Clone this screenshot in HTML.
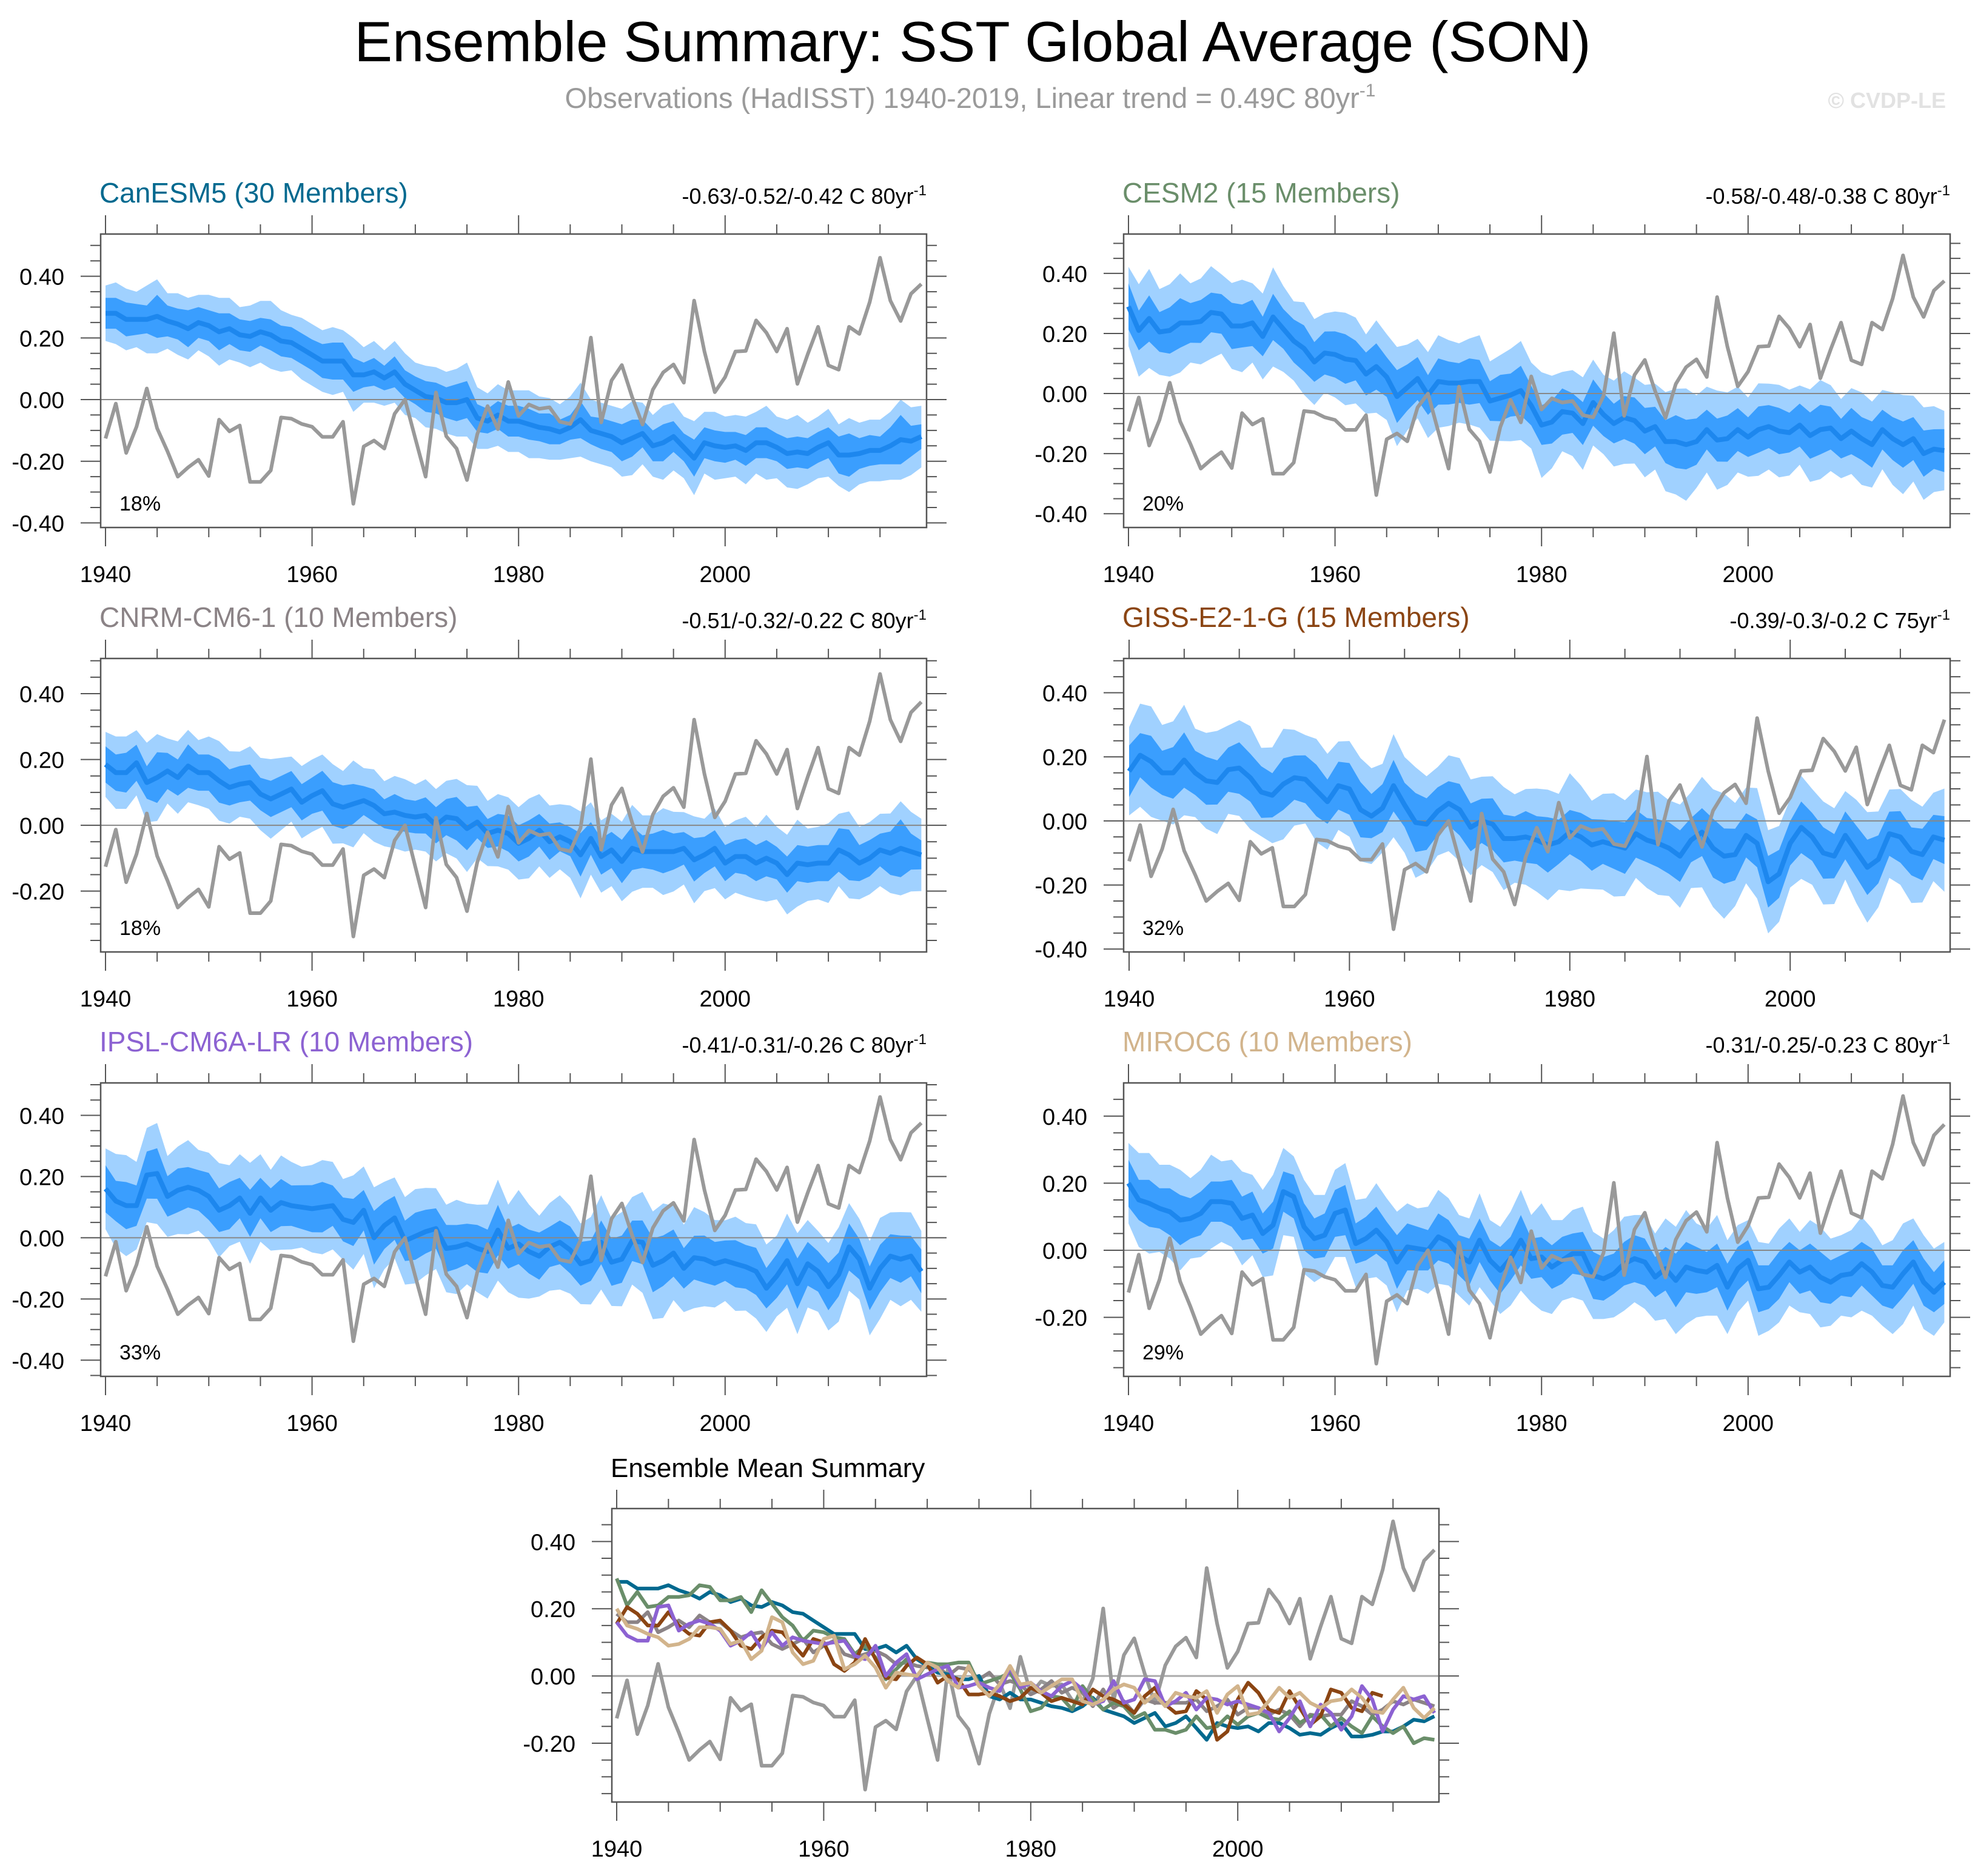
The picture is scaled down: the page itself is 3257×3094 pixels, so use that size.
<!DOCTYPE html>
<html><head><meta charset="utf-8"><style>
html,body{margin:0;padding:0;background:#fff;}
svg{display:block;font-family:"Liberation Sans",Arial,sans-serif;}
</style></head><body>
<svg id="chart" xmlns="http://www.w3.org/2000/svg" width="3257" height="3094" viewBox="0 0 3257 3094">
<rect x="0" y="0" width="3257" height="3094" fill="#fff"/>
<text x="1604" y="101" font-size="94" text-anchor="middle" fill="#000">Ensemble Summary: SST Global Average (SON)</text>
<text x="1600" y="178" font-size="47" text-anchor="middle" fill="#9a9a9a">Observations (HadISST) 1940-2019, Linear trend = 0.49C 80yr<tspan dy="-19" font-size="30">-1</tspan></text>
<text x="3209" y="178" font-size="36" font-weight="bold" text-anchor="end" fill="#e2e2e2">© CVDP-LE</text>
<g id="panels"></g>
</svg>
<script>
const obsValues=[-0.126,-0.013,-0.173,-0.088,0.036,-0.093,-0.168,-0.250,-0.220,-0.195,-0.248,-0.065,-0.103,-0.084,-0.267,-0.267,-0.230,-0.058,-0.062,-0.079,-0.088,-0.121,-0.121,-0.072,-0.338,-0.152,-0.133,-0.159,-0.046,0.0,-0.126,-0.250,0.023,-0.119,-0.159,-0.261,-0.112,-0.021,-0.096,0.057,-0.053,-0.016,-0.030,-0.025,-0.072,-0.079,-0.008,0.201,-0.074,0.062,0.112,0.008,-0.081,0.032,0.088,0.114,0.055,0.321,0.156,0.024,0.073,0.156,0.158,0.257,0.217,0.156,0.230,0.051,0.147,0.236,0.111,0.097,0.236,0.213,0.316,0.460,0.321,0.255,0.343,0.375];
const canesm5Mean=[0.28,0.28,0.26,0.26,0.26,0.27,0.255,0.245,0.23,0.25,0.24,0.22,0.23,0.21,0.205,0.22,0.21,0.19,0.185,0.165,0.145,0.125,0.125,0.125,0.08,0.08,0.09,0.07,0.09,0.05,0.03,0.01,0.005,-0.01,-0.01,0.0,-0.06,-0.07,-0.05,-0.07,-0.07,-0.08,-0.09,-0.095,-0.105,-0.09,-0.065,-0.1,-0.11,-0.12,-0.14,-0.125,-0.11,-0.15,-0.14,-0.12,-0.155,-0.19,-0.14,-0.15,-0.155,-0.15,-0.165,-0.14,-0.14,-0.155,-0.175,-0.17,-0.175,-0.155,-0.14,-0.18,-0.18,-0.175,-0.165,-0.165,-0.15,-0.13,-0.135,-0.12];
const cesm2Mean=[0.29,0.21,0.25,0.205,0.21,0.235,0.235,0.24,0.27,0.265,0.225,0.225,0.235,0.19,0.255,0.215,0.175,0.15,0.105,0.135,0.13,0.115,0.11,0.065,0.09,0.055,-0.01,0.02,0.05,-0.005,0.04,0.035,0.035,0.04,0.04,-0.025,-0.015,-0.005,0.01,-0.04,-0.105,-0.095,-0.06,-0.065,-0.1,-0.03,-0.07,-0.1,-0.08,-0.09,-0.125,-0.11,-0.16,-0.16,-0.17,-0.16,-0.12,-0.155,-0.15,-0.12,-0.145,-0.12,-0.11,-0.125,-0.13,-0.105,-0.14,-0.12,-0.115,-0.15,-0.125,-0.15,-0.17,-0.12,-0.15,-0.17,-0.15,-0.2,-0.185,-0.19];
const cnrmMean=[0.185,0.16,0.16,0.19,0.13,0.145,0.165,0.145,0.18,0.16,0.16,0.135,0.115,0.125,0.13,0.095,0.08,0.095,0.11,0.07,0.09,0.105,0.065,0.055,0.065,0.075,0.06,0.035,0.04,0.03,0.025,0.03,0.0,0.025,0.02,-0.01,0.01,-0.025,-0.015,-0.025,-0.055,-0.04,-0.015,-0.05,-0.035,-0.05,-0.09,-0.04,-0.095,-0.075,-0.11,-0.07,-0.08,-0.08,-0.08,-0.08,-0.07,-0.105,-0.09,-0.07,-0.115,-0.095,-0.095,-0.115,-0.1,-0.115,-0.15,-0.115,-0.12,-0.115,-0.115,-0.075,-0.09,-0.115,-0.1,-0.075,-0.085,-0.07,-0.08,-0.09];
const gissMean=[0.155,0.205,0.185,0.15,0.15,0.19,0.15,0.125,0.12,0.16,0.165,0.135,0.09,0.08,0.115,0.135,0.13,0.095,0.06,0.11,0.1,0.035,0.015,0.04,0.11,0.05,-0.005,-0.01,0.03,0.055,0.035,-0.02,0.0,-0.01,-0.055,-0.055,-0.05,-0.06,-0.075,-0.065,-0.035,-0.05,-0.075,-0.065,-0.075,-0.085,-0.04,-0.06,-0.07,-0.085,-0.11,-0.06,-0.035,-0.085,-0.11,-0.105,-0.045,-0.07,-0.19,-0.165,-0.07,-0.02,-0.05,-0.1,-0.11,-0.045,-0.095,-0.145,-0.12,-0.04,-0.05,-0.095,-0.105,-0.05,-0.06];
const ipslMean=[0.16,0.12,0.105,0.105,0.205,0.21,0.135,0.155,0.165,0.155,0.135,0.09,0.105,0.13,0.08,0.13,0.09,0.115,0.105,0.1,0.095,0.1,0.105,0.06,0.05,0.09,0.0,0.04,0.065,-0.01,0.005,0.02,0.03,-0.035,-0.03,-0.02,-0.035,-0.045,0.025,-0.035,-0.02,-0.045,-0.06,-0.03,-0.015,-0.04,-0.085,-0.075,-0.015,-0.08,-0.07,-0.01,-0.015,-0.09,-0.075,-0.05,-0.1,-0.065,-0.07,-0.085,-0.075,-0.085,-0.095,-0.11,-0.165,-0.125,-0.075,-0.15,-0.085,-0.11,-0.16,-0.12,-0.03,-0.07,-0.165,-0.1,-0.06,-0.07,-0.06,-0.11];
const mirocMean=[0.2,0.15,0.14,0.125,0.115,0.09,0.095,0.11,0.145,0.145,0.14,0.095,0.105,0.05,0.075,0.175,0.16,0.07,0.035,0.045,0.11,0.12,0.02,0.035,0.06,0.025,-0.035,0.01,0.005,0.0,0.04,0.025,-0.015,-0.035,0.03,-0.03,-0.06,-0.025,0.03,-0.025,-0.02,-0.05,-0.03,-0.01,-0.01,-0.075,-0.085,-0.07,-0.04,-0.025,-0.035,-0.08,-0.055,-0.09,-0.05,-0.06,-0.065,-0.045,-0.11,-0.055,-0.03,-0.115,-0.11,-0.075,-0.035,-0.065,-0.05,-0.08,-0.095,-0.075,-0.07,-0.04,-0.065,-0.105,-0.11,-0.07,-0.035,-0.095,-0.125,-0.095];
const innerNarrow=[0.05,0.05,0.055,0.05,0.045,0.07,0.05,0.05,0.06,0.05,0.05,0.06,0.05,0.05,0.05,0.045,0.05,0.05,0.05,0.05,0.05,0.055,0.06,0.06,0.055,0.04,0.045,0.04,0.05,0.045,0.045,0.05,0.05,0.05,0.06,0.06,0.045,0.04,0.045,0.05,0.05,0.05,0.045,0.05,0.04,0.04,0.06,0.045,0.05,0.05,0.06,0.06,0.045,0.05,0.06,0.05,0.045,0.06,0.05,0.05,0.05,0.045,0.05,0.05,0.05,0.045,0.05,0.05,0.05,0.05,0.05,0.06,0.07,0.05,0.05,0.045,0.06,0.08,0.05,0.04];
const outerNarrow=[0.09,0.1,0.1,0.09,0.11,0.12,0.09,0.1,0.1,0.09,0.1,0.11,0.1,0.09,0.1,0.1,0.11,0.1,0.09,0.1,0.1,0.1,0.11,0.1,0.12,0.09,0.1,0.09,0.1,0.1,0.09,0.1,0.1,0.1,0.11,0.12,0.1,0.09,0.1,0.1,0.1,0.11,0.1,0.1,0.09,0.1,0.12,0.1,0.1,0.1,0.11,0.12,0.1,0.1,0.12,0.11,0.1,0.12,0.1,0.11,0.1,0.1,0.11,0.1,0.12,0.1,0.11,0.12,0.1,0.1,0.11,0.1,0.12,0.1,0.1,0.1,0.11,0.13,0.11,0.1];
const innerWide=[0.07,0.06,0.07,0.06,0.07,0.075,0.06,0.065,0.06,0.06,0.07,0.065,0.07,0.06,0.07,0.06,0.065,0.07,0.06,0.065,0.07,0.075,0.06,0.065,0.07,0.06,0.08,0.07,0.065,0.06,0.07,0.065,0.06,0.07,0.065,0.06,0.07,0.065,0.075,0.06,0.06,0.065,0.07,0.06,0.065,0.07,0.065,0.06,0.065,0.07,0.07,0.06,0.065,0.08,0.075,0.07,0.06,0.065,0.07,0.065,0.06,0.07,0.065,0.07,0.06,0.065,0.07,0.075,0.065,0.06,0.07,0.065,0.07,0.06,0.065,0.07,0.065,0.07,0.06,0.065];
const outerWide=[0.12,0.14,0.15,0.13,0.14,0.15,0.12,0.13,0.14,0.12,0.13,0.14,0.12,0.13,0.15,0.13,0.12,0.14,0.13,0.12,0.13,0.14,0.13,0.12,0.14,0.13,0.15,0.13,0.12,0.13,0.14,0.13,0.12,0.13,0.14,0.12,0.13,0.14,0.15,0.13,0.16,0.14,0.12,0.13,0.14,0.13,0.12,0.13,0.14,0.13,0.14,0.13,0.15,0.16,0.17,0.14,0.13,0.15,0.14,0.13,0.12,0.14,0.13,0.14,0.13,0.12,0.14,0.15,0.13,0.12,0.13,0.14,0.13,0.12,0.14,0.15,0.13,0.14,0.13,0.12];
const xTickYears=[1940,1960,1980,2000];
const panelTitles=["CanESM5 (30 Members)","CESM2 (15 Members)","CNRM-CM6-1 (10 Members)","GISS-E2-1-G (15 Members)","IPSL-CM6A-LR (10 Members)","MIROC6 (10 Members)"];
const trendLabels=["-0.63/-0.52/-0.42 C 80yr","-0.58/-0.48/-0.38 C 80yr","-0.51/-0.32/-0.22 C 80yr","-0.39/-0.3/-0.2 C 75yr","-0.41/-0.31/-0.26 C 80yr","-0.31/-0.25/-0.23 C 80yr"];
const percentLabels=["18%","20%","18%","32%","33%","29%"];

const NS="http://www.w3.org/2000/svg";
const root=document.getElementById('panels');
function mk(tag,attrs,parent){const e=document.createElementNS(NS,tag);for(const k in attrs)e.setAttribute(k,attrs[k]);(parent||root).appendChild(e);return e;}

const models=[
 {mean:canesm5Mean,inner:innerNarrow,outer:outerNarrow,f:1.0,color:"#00698f",box:[166,386,1528,870],x0:174,step:17.03,ymax:0.537,ymin:-0.415,n:80},
 {mean:cesm2Mean,inner:innerWide,outer:outerWide,f:1.1,color:"#6a8e6a",box:[1853,386,3216,870],x0:1861,step:17.03,ymax:0.531,ymin:-0.446,n:80},
 {mean:cnrmMean,inner:innerNarrow,outer:outerNarrow,f:1.1,color:"#8b8386",box:[166,1086,1528,1570],x0:174,step:17.03,ymax:0.507,ymin:-0.385,n:80},
 {mean:gissMean,inner:innerWide,outer:outerWide,f:1.15,color:"#8b4513",box:[1853,1086,3216,1570],x0:1862,step:18.17,ymax:0.507,ymin:-0.409,n:75},
 {mean:ipslMean,inner:innerWide,outer:outerWide,f:1.1,color:"#8c62d2",box:[166,1786,1528,2270],x0:174,step:17.03,ymax:0.506,ymin:-0.453,n:80},
 {mean:mirocMean,inner:innerWide,outer:outerWide,f:1.0,color:"#d2b48c",box:[1853,1786,3216,2270],x0:1861,step:17.03,ymax:0.499,ymin:-0.376,n:80}
];

function axes(g,cfg){
 const [L,T,R,B]=cfg.box;
 const xs=yr=>cfg.x0+(yr-1940)*cfg.step;
 const ys=v=>T+(cfg.ymax-v)/(cfg.ymax-cfg.ymin)*(B-T);
 mk('rect',{x:L,y:T,width:R-L,height:B-T,fill:'#fff',stroke:'none'},g);
 for(let k=-10;k<=10;k++){const v=k*0.05;if(v>cfg.ymax||v<cfg.ymin)continue;const major=(k%4===0);const y=ys(v);
  const t1=mk('line',{x1:L-(major?33:17),x2:L,y1:y,y2:y,stroke:'#555','stroke-width':2},g);
  const t2=mk('line',{x1:R,x2:R+(major?33:17),y1:y,y2:y,stroke:'#555','stroke-width':2},g);
  if(major){const lb=mk('text',{x:L-60,y:y+14,'font-size':38,'text-anchor':'end',fill:'#000'},g);lb.textContent=v.toFixed(2);}
 }
 for(let yr=1940;xs(yr)<=R;yr+=5){const x=xs(yr);const major=((yr-1940)%20===0);
  const a=mk('line',{x1:x,x2:x,y1:T-(major?31:16),y2:T,stroke:'#555','stroke-width':2},g);
  const b=mk('line',{x1:x,x2:x,y1:B,y2:B+(major?31:16),stroke:'#555','stroke-width':2},g);
 }
 xTickYears.forEach(yr=>{const lb=mk('text',{x:xs(yr),y:B+90,'font-size':38,'text-anchor':'middle',fill:'#000'},g);lb.textContent=yr;});
 return {xs,ys};
}
function pathOf(arr,n,xs,ys){let d='';for(let i=0;i<n;i++){d+=(i?'L':'M')+xs(1940+i).toFixed(1)+','+ys(arr[i]).toFixed(1);}return d;}
function bandOf(mean,w,f,n,xs,ys){let up='',lo='';for(let i=0;i<n;i++){up+=(i?'L':'M')+xs(1940+i).toFixed(1)+','+ys(mean[i]+w[i]*f).toFixed(1);}for(let i=n-1;i>=0;i--){lo+='L'+xs(1940+i).toFixed(1)+','+ys(mean[i]-w[i]*f).toFixed(1);}return up+lo+'Z';}

models.forEach((m,idx)=>{
 const g=mk('g',{});
 
 
 const {xs,ys}=axes(g,m);
 const [L,T,R,B]=m.box;
 const clipId='clip'+idx;
 const cp=mk('clipPath',{id:clipId},g);mk('rect',{x:L,y:T,width:R-L,height:B-T},cp);
 const pg=mk('g',{'clip-path':'url(#'+clipId+')'},g);
 const ob=mk('path',{d:bandOf(m.mean,m.outer,m.f,m.n,xs,ys),fill:'#a0d1ff',stroke:'none'},pg);
 
 const ib=mk('path',{d:bandOf(m.mean,m.inner,m.f,m.n,xs,ys),fill:'#3a9efe',stroke:'none'},pg);
 
 const z=mk('line',{x1:L,x2:R,y1:ys(0),y2:ys(0),stroke:'#888','stroke-width':2},pg);
 
 const ml=mk('path',{d:pathOf(m.mean,m.n,xs,ys),fill:'none',stroke:'#1d87ee','stroke-width':8,'stroke-linejoin':'round'},pg);
 
 const ol=mk('path',{d:pathOf(obsValues,m.n,xs,ys),fill:'none',stroke:'#999','stroke-width':6,'stroke-linejoin':'round'},pg);
 
 mk('rect',{x:L,y:T,width:R-L,height:B-T,fill:'none',stroke:'#555','stroke-width':2.5},g);
 const tt=mk('text',{x:L-2,y:T-52,'font-size':46,fill:m.color},g);tt.textContent=panelTitles[idx];
 
 const tr=mk('text',{x:R,y:T-50,'font-size':36,'text-anchor':'end',fill:'#000'},g);tr.textContent=trendLabels[idx];
 const sup=mk('tspan',{dy:-14,'font-size':24},tr);sup.textContent='-1';
 
 const pc=mk('text',{x:L+31,y:B-28,'font-size':34,fill:'#000'},g);pc.textContent=percentLabels[idx];
 
});

(function(){
 const cfg={box:[1009,2488,2373,2972],x0:1017,step:17.07,ymax:0.498,ymin:-0.375};
 const g=mk('g',{});
 
 
 const {xs,ys}=axes(g,cfg);
 const [L,T,R,B]=cfg.box;
 const cp=mk('clipPath',{id:'clipS'},g);mk('rect',{x:L,y:T,width:R-L,height:B-T},cp);
 const pg=mk('g',{'clip-path':'url(#clipS)'},g);
 const z=mk('line',{x1:L,x2:R,y1:ys(0),y2:ys(0),stroke:'#aaa','stroke-width':3},pg);
 
 const ol=mk('path',{d:pathOf(obsValues,80,xs,ys),fill:'none',stroke:'#999','stroke-width':6,'stroke-linejoin':'round'},pg);
 
 [2,0,1,3,4,5].forEach(i=>{const m=models[i];
  const p=mk('path',{d:pathOf(m.mean,m.n,xs,ys),fill:'none',stroke:m.color,'stroke-width':6,'stroke-linejoin':'round'},pg);
  
  
 });
 mk('rect',{x:L,y:T,width:R-L,height:B-T,fill:'none',stroke:'#555','stroke-width':2.5},g);
 const tt=mk('text',{x:L-2,y:T-52,'font-size':44,fill:'#000'},g);tt.textContent='Ensemble Mean Summary';
 
})();
</script>
</body></html>
